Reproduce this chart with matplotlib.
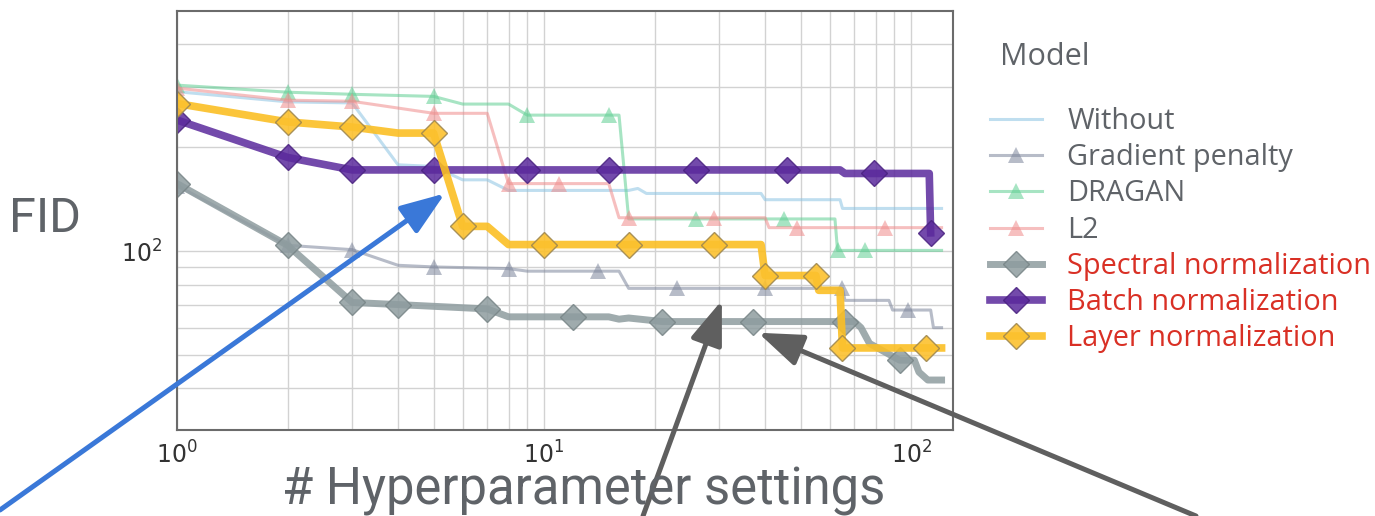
import numpy as np
import matplotlib
matplotlib.use('Agg')
import matplotlib.pyplot as plt
from matplotlib.ticker import NullFormatter

# best FID so far vs number of hyperparameter settings
without_x = [1, 2, 3, 4, 5, 6, 7, 8, 17, 18, 19, 39, 40, 64, 65, 121]
without_y = [290, 271, 269, 178, 176, 161, 161, 150, 150, 152, 147, 147, 141, 141, 133, 133]

gp_x = [1, 2, 3, 4, 5, 8, 9, 14, 16, 17, 23, 40, 65, 66, 87, 89, 98, 113, 115, 121]
gp_y = [155, 104, 101, 91, 90, 89, 87.5, 87.5, 87.5, 78, 78, 78, 78, 72, 72, 67.5, 67.5, 67.5, 60, 60]
gp_marks = [1, 2, 3, 5, 8, 14, 23, 40, 65, 98]

dragan_x = [1, 2, 3, 5, 6, 8, 9, 15, 16, 17, 26, 45, 62, 63, 75, 121]
dragan_y = [303, 289, 285, 281, 267, 267, 248, 248, 248, 124, 124, 124, 124, 100.5, 100.5, 100.5]
dragan_marks = [1, 2, 3, 5, 9, 15, 26, 45, 63, 75]

l2_x = [1, 2, 3, 5, 7, 8, 11, 15, 16, 17, 29, 40, 41, 49, 85, 121]
l2_y = [297, 274, 272, 251, 251, 157, 157, 157, 125, 125, 125, 125, 117, 117, 117, 117]
l2_marks = [1, 2, 3, 5, 8, 11, 17, 29, 49, 85]

sn_x = [1, 2, 3, 4, 7, 8, 12, 15, 16, 17, 21, 37, 66, 70, 73, 77, 93, 102, 105, 111, 121]
sn_y = [157, 104, 71, 70, 68, 64.5, 64.5, 64.5, 63.5, 64, 62.5, 62.5, 62.5, 62.5, 60, 54, 48.3, 48.3, 44.6, 42.3, 42.3]
sn_marks = [1, 2, 3, 4, 7, 12, 21, 37, 66, 93]

bn_x = [1, 2, 3, 5, 9, 15, 26, 46, 64, 66, 79, 112, 113]
bn_y = [240, 187, 172, 172, 172, 172, 172, 172, 172, 168, 168, 168, 113]
bn_marks = [1, 2, 3, 5, 9, 15, 26, 46, 79, 113]

ln_x = [1, 2, 3, 4, 5, 6, 7, 8, 10, 17, 29, 39, 40, 55, 56, 64, 65, 110, 121]
ln_y = [268, 237, 229, 220, 220, 118, 118, 104.5, 104.5, 104.5, 104.5, 104.5, 85, 85, 77, 77, 52.4, 52.4, 52.4]
ln_marks = [1, 2, 3, 5, 6, 10, 17, 29, 40, 55, 65, 110]

labels = ['Without', 'Gradient penalty', 'DRAGAN', 'L2',
          'Spectral normalization', 'Batch normalization', 'Layer normalization']

# arrow tips (data coords)
blue_tip = (5.37, 147)
gray_tip1 = (30.5, 72)
gray_tip2 = (38.3, 58)

TXT = '#5f6368'
RED = '#d93025'


def mark_idx(xs, marks):
    return [i for i, x in enumerate(xs) if x in marks]


fig = plt.figure(figsize=(13.75, 5.16), dpi=100)
ax = fig.add_axes([177 / 1375, 1 - 430 / 516, 776 / 1375, 419 / 516])
ax.set_xscale('log')
ax.set_yscale('log')

thin = dict(lw=2.2, alpha=0.55)
ax.plot(without_x, without_y, color='#8cc3e3', label=labels[0], **thin)
ax.plot(gp_x, gp_y, color='#7d869c', marker='^', ms=11, mew=0,
        markevery=mark_idx(gp_x, gp_marks), label=labels[1], **thin)
ax.plot(dragan_x, dragan_y, color='#5fcf93', marker='^', ms=11, mew=0,
        markevery=mark_idx(dragan_x, dragan_marks), label=labels[2], **thin)
ax.plot(l2_x, l2_y, color='#f08c8c', marker='^', ms=11, mew=0,
        markevery=mark_idx(l2_x, l2_marks), label=labels[3], **thin)
ax.plot(sn_x, sn_y, color='#8e9c9f', lw=5, alpha=0.85, marker='D', ms=13,
        mec='#788587', mew=1, markevery=mark_idx(sn_x, sn_marks), label=labels[4])
ax.plot(bn_x, bn_y, color='#5b2a9c', lw=5.5, alpha=0.85, marker='D', ms=13,
        mec='#4a2280', mew=1, markevery=mark_idx(bn_x, bn_marks), label=labels[5])
ax.plot(ln_x, ln_y, color='#fbbf24', lw=5.5, alpha=0.9, marker='D', ms=13,
        mfc='#fcc12e', mec='#a08850', mew=1, markevery=mark_idx(ln_x, ln_marks),
        label=labels[6])

ax.set_xlim(1, 130)
ax.set_ylim(30.3, 497)
ax.grid(True, which='both', color='#d2d2d2', lw=1)
ax.set_axisbelow(True)
ax.yaxis.set_minor_formatter(NullFormatter())
ax.xaxis.set_minor_formatter(NullFormatter())
ax.tick_params(which='both', length=0, labelsize=17, labelcolor='#333333')
ax.tick_params(axis='x', pad=8)
ax.tick_params(axis='y', pad=11)
for sp in ax.spines.values():
    sp.set_color('#6b6b6b')
    sp.set_linewidth(1.5)

fig.text(45 / 1375, 1 - 232 / 516, 'FID', fontsize=35, color=TXT,
         family='Roboto', ha='center', va='baseline')
fig.text(584 / 1375, 1 - 505 / 516, '# Hyperparameter settings', fontsize=36.5,
         color=TXT, family='Roboto', ha='center', va='baseline')
fig.text(1000 / 1375, 1 - 65 / 516, 'Model', fontsize=22, color=TXT,
         family='Open Sans', va='baseline')

leg = ax.legend(loc='upper left', bbox_to_anchor=(990 / 1375, 1 - 107 / 516),
                bbox_transform=fig.transFigure, frameon=False, borderpad=0,
                borderaxespad=0, handlelength=1.8, handletextpad=0.88,
                labelspacing=0.25, prop={'family': 'Open Sans', 'size': 20.8})
for i, t in enumerate(leg.get_texts()):
    t.set_color(RED if i >= 4 else TXT)

head = '-|>,head_length=0.9,head_width=0.33'
arrow_blue = dict(arrowstyle=head, color='#3a78d8', lw=3.6, mutation_scale=30,
                  shrinkA=0, shrinkB=0)
arrow_gray = dict(arrowstyle=head, color='#5f5f5f', lw=3.6, mutation_scale=30,
                  shrinkA=0, shrinkB=0)
ax.annotate('', xy=blue_tip, xytext=(0, 1 - 510 / 516), textcoords='figure fraction',
            arrowprops=arrow_blue, annotation_clip=False, zorder=10)
ax.annotate('', xy=gray_tip1, xytext=(643 / 1375, 0), textcoords='figure fraction',
            arrowprops=arrow_gray, annotation_clip=False, zorder=10)
ax.annotate('', xy=gray_tip2, xytext=(1196 / 1375, 0), textcoords='figure fraction',
            arrowprops=arrow_gray, annotation_clip=False, zorder=10)

fig.savefig('out.png', dpi=100)
